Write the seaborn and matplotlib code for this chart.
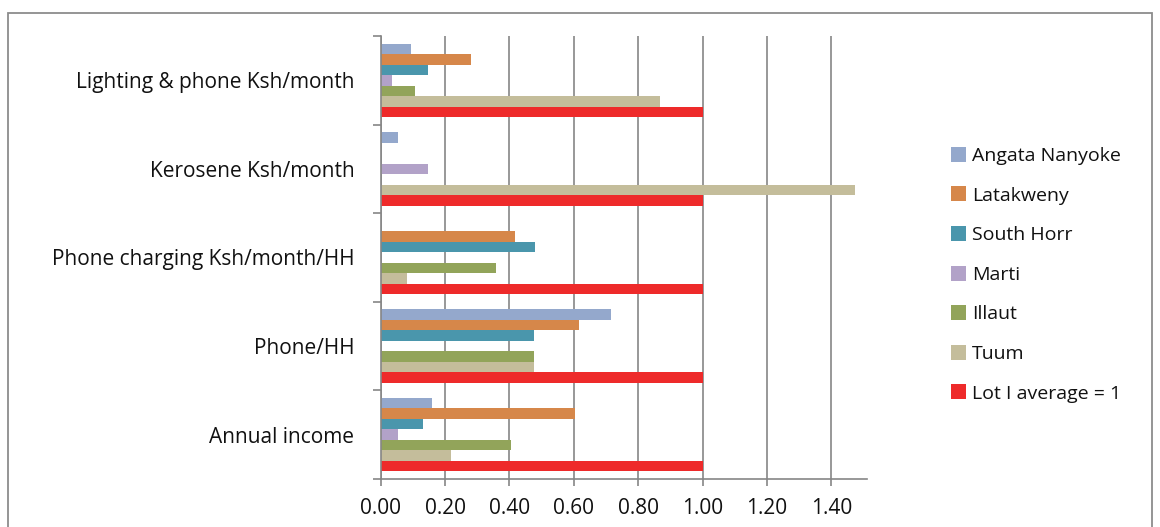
import numpy as np
import pandas as pd
import matplotlib
matplotlib.use("Agg")
import matplotlib.pyplot as plt
from matplotlib.patches import Rectangle, Patch
from matplotlib.ticker import FixedLocator
import seaborn as sns

categories = ["Lighting & phone Ksh/month", "Kerosene Ksh/month",
              "Phone charging Ksh/month/HH", "Phone/HH", "Annual income"]
series = ["Angata Nanyoke", "Latakweny", "South Horr", "Marti", "Illaut", "Tuum",
          "Lot I average = 1"]
angata = [0.094, 0.053, np.nan, 0.716, 0.159]
latakweny = [0.282, np.nan, 0.416, 0.615, 0.604]
south_horr = [0.147, np.nan, 0.480, 0.476, 0.130]
marti = [0.035, 0.147, np.nan, np.nan, 0.053]
illaut = [0.106, np.nan, 0.358, 0.475, 0.406]
tuum = [0.868, 1.472, 0.082, 0.475, 0.218]
lot_avg = [1.0, 1.0, 1.0, 1.0, 1.0]
xticks = [0.0, 0.2, 0.4, 0.6, 0.8, 1.0, 1.2, 1.4]
colors = ["#94A8CC", "#D6874A", "#4A96AC", "#B2A2C8", "#92A45A", "#C4BD9B", "#EE2A2A"]

values = [angata, latakweny, south_horr, marti, illaut, tuum, lot_avg]
rows = []
for s, vals in zip(series, values):
    for c, v in zip(categories, vals):
        rows.append({"category": c, "series": s, "value": v})
df = pd.DataFrame(rows)

sns.set_theme(style="white")
plt.rcParams["font.family"] = ["Open Sans", "DejaVu Sans"]

fig = plt.figure(figsize=(11.6, 5.27), dpi=100)
ax = fig.add_axes([0.3282, 0.0911, 0.4190, 0.8406])

sns.barplot(data=df, x="value", y="category", hue="series", order=categories,
            hue_order=series, palette=colors, orient="h", width=0.83,
            saturation=1, linewidth=0, errorbar=None, ax=ax, legend=False)

ax.set_xlim(0, 1.51)
ax.set_ylim(len(categories) - 0.5, -0.5)
ax.xaxis.set_major_locator(FixedLocator(xticks))
ax.set_xticklabels([f"{t:.2f}" for t in xticks])
ax.set_xlabel("")
ax.set_ylabel("")
ax.grid(axis="x", color="#868686", linewidth=1.2)
ax.grid(axis="y", visible=False)
ax.set_axisbelow(True)
for side in ["top", "right"]:
    ax.spines[side].set_visible(False)
for side in ["left", "bottom"]:
    ax.spines[side].set_color("#868686")
    ax.spines[side].set_linewidth(1.2)

ax.tick_params(axis="x", which="major", direction="out", length=5, width=1.2,
               color="#868686", labelsize=15, pad=9, bottom=True)
ax.tick_params(axis="y", which="major", length=0, labelsize=15, pad=19)
ax.yaxis.set_minor_locator(FixedLocator(np.arange(-0.5, len(categories), 1.0)))
ax.tick_params(axis="y", which="minor", direction="out", length=6, width=1.2,
               color="#868686", left=True)
for lbl in ax.get_xticklabels() + ax.get_yticklabels():
    lbl.set_color("#111111")

handles = [Patch(facecolor=c, edgecolor="none") for c in colors]
leg = fig.legend(handles, series, loc="upper left", bbox_to_anchor=(0.813, 0.736),
                 frameon=False, fontsize=14, handlelength=0.8, handleheight=0.8,
                 handletextpad=0.3, labelspacing=1.1, borderaxespad=0)
for t in leg.get_texts():
    t.set_color("#111111")

fig.patches.append(Rectangle((8 / 1160, -0.05), (1152 - 8) / 1160, 1.05 - 13 / 527,
                             transform=fig.transFigure, fill=False,
                             edgecolor="#8c8c8c", linewidth=1.3, clip_on=False))

fig.savefig("out.png", dpi=100)
